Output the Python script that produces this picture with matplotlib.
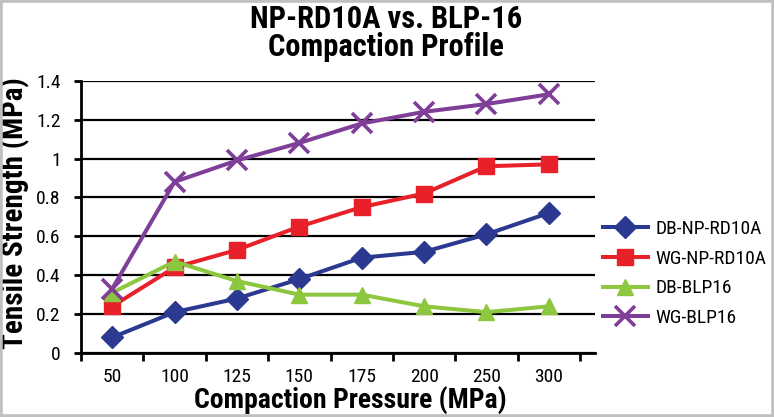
import matplotlib
matplotlib.use("Agg")
import matplotlib.pyplot as plt
from matplotlib.patches import Rectangle

plt.rcParams['font.family'] = ['Roboto Condensed', 'DejaVu Sans']

categories = ["50", "100", "125", "150", "175", "200", "250", "300"]
db_np = [0.08, 0.21, 0.28, 0.38, 0.49, 0.52, 0.61, 0.72]
wg_np = [0.24, 0.44, 0.53, 0.65, 0.75, 0.82, 0.96, 0.97]
db_blp = [0.31, 0.47, 0.37, 0.30, 0.30, 0.24, 0.21, 0.24]
wg_blp = [0.33, 0.88, 0.99, 1.08, 1.18, 1.24, 1.28, 1.33]
yticks = [0, 0.2, 0.4, 0.6, 0.8, 1.0, 1.2, 1.4]
ytick_labels = ["0", "0.2", "0.4", "0.6", "0.8", "1", "1.2", "1.4"]

W, H = 774, 417
fig = plt.figure(figsize=(W / 100, H / 100), dpi=100)
fig.patch.set_facecolor("white")

x0, x1 = 81, 595
y0, y1 = 353, 80.7
ax = fig.add_axes([x0 / W, 1 - y0 / H, (x1 - x0) / W, (y0 - y1) / H])
ax.set_facecolor("none")

x = list(range(len(categories)))
lw = 2.9
ax.plot(x, db_np, color="#2b3990", lw=lw, marker="D", ms=11.5, label="DB-NP-RD10A", zorder=5)
ax.plot(x, wg_np, color="#e8202a", lw=lw, marker="s", ms=12, label="WG-NP-RD10A", zorder=5)
ax.plot(x, db_blp, color="#8dc63f", lw=lw, marker="^", ms=12, label="DB-BLP16", zorder=5)
ax.plot(x, wg_blp, color="#7f3f98", lw=lw, marker="x", ms=15, mew=2.6, label="WG-BLP16", zorder=5)

step = (580 - 80) / 8.0
right_extra = (595 - 580) / step
ax.set_xlim(-0.5, 7.5 + right_extra)
ax.set_ylim(0, 1.4)

ax.set_xticks([i - 0.5 for i in range(len(categories) + 1)])
ax.set_xticklabels([])
ax.set_xticks(x, minor=True)
ax.set_xticklabels(categories, minor=True, fontsize=14)
ax.tick_params(axis="x", which="minor", length=0, pad=11)
ax.tick_params(axis="x", which="major", length=6, width=2, direction="out", color="black")

ax.set_yticks(yticks)
ax.set_yticklabels(ytick_labels, fontsize=14)
ax.tick_params(axis="y", length=5, width=2, direction="out", pad=9.5)

ax.grid(axis="y", color="black", lw=1.6, zorder=0)
ax.set_axisbelow(True)
for s in ["top", "right"]:
    ax.spines[s].set_visible(False)
for s in ["left", "bottom"]:
    ax.spines[s].set_linewidth(2)
    ax.spines[s].set_color("black")

fig.text(386 / W, 1 - 19 / H, "NP-RD10A vs. BLP-16", ha="center", va="center",
         fontsize=22, fontweight="bold")
fig.text(386 / W, 1 - 47 / H, "Compaction Profile", ha="center", va="center",
         fontsize=22, fontweight="bold")
fig.text(350 / W, 1 - 400 / H, "Compaction Pressure (MPa)", ha="center", va="center",
         fontsize=20, fontweight="bold")
fig.text(15 / W, 1 - 213 / H, "Tensile Strength (MPa)", ha="center", va="center",
         rotation=90, fontsize=21, fontweight="bold")

leg = fig.legend(loc="upper left", bbox_to_anchor=(603 / W, 1 - 220 / H), frameon=False,
                 fontsize=14, handlelength=2.3, labelspacing=0.6, handletextpad=0.4,
                 borderaxespad=0, borderpad=0)

fig.add_artist(Rectangle((0, 0), 1, 1, transform=fig.transFigure, fill=False,
                         edgecolor="#c0c0c0", lw=4, zorder=10))

fig.savefig("out.png", dpi=100)
